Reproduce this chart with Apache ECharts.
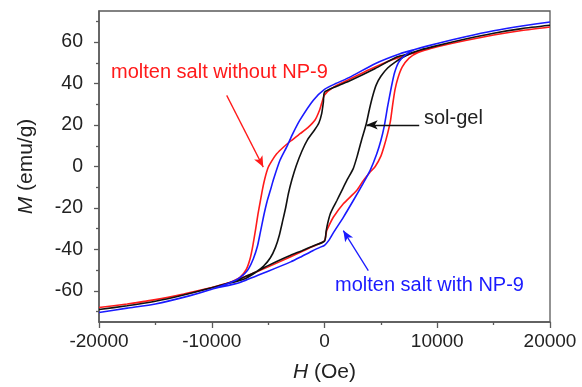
<!DOCTYPE html>
<html>
<head>
<meta charset="utf-8">
<script src="https://cdn.jsdelivr.net/npm/echarts@6/dist/echarts.min.js"></script>
<style>
  html, body { margin: 0; padding: 0; background: #fff; }
  #chart { width: 582px; height: 387px; }
</style>
</head>
<body>
<div id="chart"></div>
<script>
// hysteresis loops: [H (Oe), M (emu/g)], upper branch (+20000 -> -20000) then lower branch (-20000 -> +20000)
const moltenNoNP9 = [
  [20000, 67.3], [17500, 65.6], [15000, 63.4], [12500, 60.8], [10000, 57.8], [8700, 56], [7600, 54.3],
  [6000, 51.5], [4000, 46.8], [2000, 41.5], [800, 38.3], [0, 34.5], [-250, 30.5], [-450, 27],
  [-840, 22.4], [-1500, 18.6], [-2170, 15.8], [-3000, 12.3], [-3650, 9.3], [-4240, 6.1], [-4700, 2.5],
  [-5000, -0.5], [-5300, -6], [-5500, -11], [-5700, -17], [-5900, -23], [-6100, -30], [-6350, -38],
  [-6600, -44.5], [-6950, -49.8], [-7500, -53.5], [-8300, -55.7], [-9300, -57.3], [-10000, -58.4],
  [-12500, -61.5], [-15000, -64.2], [-17500, -66.3], [-20000, -68],
  [-17500, -66.3], [-15000, -64.2], [-12000, -61.1], [-10000, -58.4], [-8000, -55.2], [-6000, -50.8],
  [-4000, -46], [-2000, -41], [-1000, -38.5], [0, -35.8], [190, -31], [400, -28.5], [780, -24.5],
  [1670, -18], [2850, -11.6], [3440, -6.8], [4000, -3], [4500, 0], [5000, 5], [5300, 10], [5600, 16],
  [5850, 22], [6050, 30], [6250, 37], [6500, 42.5], [6900, 48], [7500, 52.3], [8300, 55], [9500, 57],
  [10000, 57.8], [12500, 60.8], [15000, 63.4], [17500, 65.6], [20000, 67.3]
];

const solGel = [
  [20000, 68.1], [17500, 66.5], [15000, 64.3], [12500, 61.5], [10000, 58.3], [8500, 56.2], [7600, 54.6],
  [6400, 52.8], [4500, 47.3], [2300, 41.5], [1000, 38.5], [0, 35.8], [-100, 31], [-250, 25.5],
  [-500, 21], [-900, 17.5], [-1500, 13], [-2000, 7.5], [-2500, 0.5], [-2900, -6.5], [-3200, -13],
  [-3450, -20], [-3700, -26], [-4000, -33], [-4350, -39], [-4800, -44], [-5400, -48], [-6100, -51],
  [-7000, -54], [-7800, -55.4], [-9000, -57], [-10000, -58.5], [-12500, -62], [-15000, -65],
  [-17500, -67.2], [-20000, -69],
  [-17500, -67.2], [-15000, -65], [-12500, -62], [-10000, -58.5], [-8000, -55.4], [-7000, -53],
  [-6000, -50.6], [-5000, -47.8], [-4000, -45.2], [-3000, -42.8], [-2000, -40.6], [-1000, -38.3],
  [0, -36], [150, -31], [300, -27], [500, -23], [800, -19.5], [1100, -16.4], [1500, -12], [2000, -6.5],
  [2550, -1], [2900, 5], [3300, 13], [3700, 20.5], [4000, 28], [4300, 34.5], [4600, 39.5], [5000, 43.5],
  [5600, 47.5], [6300, 50.5], [7000, 52.8], [7600, 54.4], [8500, 56.2], [10000, 58.3], [12500, 61.5],
  [15000, 64.3], [17500, 66.5], [20000, 68.1]
];

const moltenNP9 = [
  [20000, 69.7], [17500, 67.8], [15000, 65.5], [12500, 62.6], [10000, 59.3], [8000, 56.4], [6700, 54.4],
  [4480, 49.6], [2260, 43.1], [1000, 40], [0, 37.2], [-990, 32], [-2170, 22.5], [-2800, 16],
  [-3350, 9.5], [-3950, 3], [-4540, -6.5], [-4800, -11.5], [-5100, -17], [-5400, -24], [-5700, -32],
  [-5950, -38.5], [-6310, -44.5], [-6750, -49.5], [-7200, -52.3], [-7790, -54.6], [-8500, -56.3],
  [-10000, -59.2], [-12000, -62.4], [-15000, -66.3], [-17500, -68.3], [-20000, -70.4],
  [-17500, -68.3], [-15000, -66.3], [-12000, -62.4], [-10000, -59.2], [-7500, -55.9], [-5000, -50.5],
  [-3000, -46], [-2170, -43.8], [-1000, -40.5], [-400, -39], [0, -38], [400, -35.5], [780, -32],
  [1670, -24.5], [2555, -16.4], [3440, -8], [4040, -2], [4630, 6], [5000, 12.5], [5300, 19.5],
  [5600, 29], [5900, 37.5], [6200, 45], [6600, 50.5], [7200, 53.8], [8000, 56.4], [10000, 59.3],
  [12500, 62.6], [15000, 65.5], [17500, 67.8], [20000, 69.7]
];

// annotation arrows: [start, end] in data units
const noNP9Arrow = [[-8675, 34.3], [-5430, -0.3]];
const solGelArrow = [[8400, 20.1], [3740, 20.1]];
const np9Arrow = [[3885, -50.2], [1667, -30.9]];

const xTicks = [-20000, -10000, 0, 10000, 20000];
const yMajorTicks = [-60, -40, -20, 0, 20, 40, 60];
const yMinorTicks = [-70, -50, -30, -10, 10, 30, 50, 70];

const FONT = '"Liberation Sans", Arial, sans-serif';
const AXIS_COLOR = '#5a5a5a';

const chart = echarts.init(document.getElementById('chart'));

function arrowLine(pts, color) {
  return {
    silent: true,
    animation: false,
    symbolSize: [7, 11],
    label: { show: false },
    emphasis: { disabled: true },
    lineStyle: { color: color, width: 1.3, type: 'solid' },
    data: [[
      { coord: pts[0], symbol: 'none' },
      { coord: pts[1], symbol: 'arrow' }
    ]]
  };
}

function loopSeries(name, data, color, arrow) {
  return {
    name: name,
    type: 'line',
    data: data,
    showSymbol: false,
    smooth: 0.2,
    clip: true,
    lineStyle: { color: color, width: 1.6 },
    itemStyle: { color: color },
    markLine: arrowLine(arrow, color)
  };
}

chart.setOption({
  animation: false,
  textStyle: { fontFamily: FONT },
  grid: {
    left: 99, right: 32, top: 11, bottom: 65,
    show: true, borderColor: AXIS_COLOR, borderWidth: 1.3,
    containLabel: false, outerBoundsMode: 'none'
  },
  xAxis: {
    type: 'value',
    min: xTicks[0],
    max: xTicks[xTicks.length - 1],
    interval: 10000,
    name: '{i|H} (Oe)',
    nameLocation: 'middle',
    nameGap: 40,
    nameTextStyle: {
      fontSize: 21, color: '#222', fontFamily: FONT,
      rich: { i: { fontSize: 21, fontStyle: 'italic', color: '#222', fontFamily: FONT } }
    },
    axisLine: { show: true, onZero: false, lineStyle: { color: AXIS_COLOR, width: 1.5 } },
    axisTick: { show: true, length: 6, lineStyle: { color: AXIS_COLOR, width: 1.3 } },
    minorTick: { show: true, splitNumber: 2, length: 3, lineStyle: { color: AXIS_COLOR, width: 1.3 } },
    axisLabel: { fontSize: 19, color: '#222', margin: 10, fontFamily: FONT, formatter: v => String(v) },
    splitLine: { show: false }
  },
  yAxis: [{
    type: 'value',
    min: -75,
    max: 75,
    name: '{i|M} (emu/g)',
    nameLocation: 'middle',
    nameGap: 62,
    nameTextStyle: {
      fontSize: 21, color: '#222', fontFamily: FONT,
      rich: { i: { fontSize: 21, fontStyle: 'italic', color: '#222', fontFamily: FONT } }
    },
    axisLine: { show: true, onZero: false, lineStyle: { color: AXIS_COLOR, width: 1.5 } },
    axisTick: { show: true, customValues: yMajorTicks, length: 5, lineStyle: { color: AXIS_COLOR, width: 1.3 } },
    axisLabel: { customValues: yMajorTicks, fontSize: 19.5, color: '#222', margin: 16, fontFamily: FONT },
    splitLine: { show: false }
  }, {
    type: 'value',
    min: -75,
    max: 75,
    position: 'left',
    offset: 0,
    axisLine: { show: false, onZero: false },
    axisTick: { show: true, customValues: yMinorTicks, length: 3, lineStyle: { color: AXIS_COLOR, width: 1.3 } },
    axisLabel: { show: false },
    splitLine: { show: false }
  }],
  series: [
    loopSeries('molten salt without NP-9', moltenNoNP9, '#ff1a1a', noNP9Arrow),
    loopSeries('sol-gel', solGel, '#111111', solGelArrow),
    loopSeries('molten salt with NP-9', moltenNP9, '#1a1aff', np9Arrow)
  ],
  graphic: [
    { type: 'text', left: 111, top: 62, style: { text: 'molten salt without NP-9', fill: '#ff1a1a', font: '20px ' + FONT } },
    { type: 'text', left: 424, top: 108, style: { text: 'sol-gel', fill: '#222', font: '20px ' + FONT } },
    { type: 'text', left: 335, top: 275, style: { text: 'molten salt with NP-9', fill: '#1a1aff', font: '20px ' + FONT } }
  ]
});
</script>
</body>
</html>
